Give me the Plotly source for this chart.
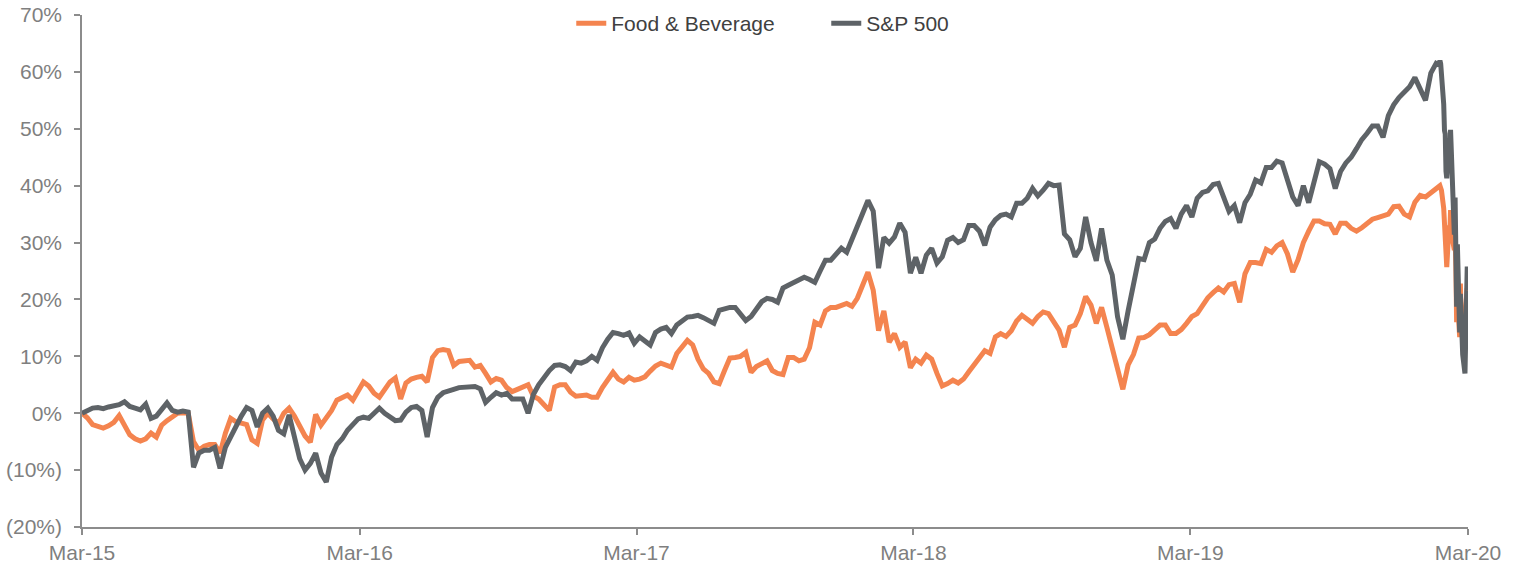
import pandas as pd
import plotly.graph_objects as go

# Weekly observation dates (Fridays) from the start of the series, then daily closes in the final weeks
weekly_dates = pd.date_range("2015-03-27", periods=256, freq="7D")
daily_dates = pd.to_datetime([
    "2020-02-18", "2020-02-19", "2020-02-20", "2020-02-21", "2020-02-24", "2020-02-25",
    "2020-02-26", "2020-02-27", "2020-02-28", "2020-03-02", "2020-03-03", "2020-03-04",
    "2020-03-05", "2020-03-06", "2020-03-09", "2020-03-10", "2020-03-11", "2020-03-12",
    "2020-03-13", "2020-03-16", "2020-03-17", "2020-03-18", "2020-03-19", "2020-03-20",
    "2020-03-23", "2020-03-24", "2020-03-25", "2020-03-26", "2020-03-27",
])

# Cumulative return (%) — S&P 500, weekly
sp500_weekly = [
    0, 0.5, 0.9, 1.0, 0.8, 1.1, 1.2, 1.5, 2.0, 1.2,
    0.9, 0.6, 1.6, -0.9, -0.5, 0.5, 1.8, 0.5, 0.2, 0.4,
    0.2, -9.5, -7, -6.5, -6.5, -6, -9.7, -6, -4.2, -2,
    -0.5, 1.0, 0.5, -2.4, 0, 0.9, -0.5, -3.0, -3.6, -0.3,
    -4, -8, -10, -8.8, -7, -10.5, -12.1, -7.7, -5.5, -4.5,
    -3, -2, -1, -0.7, -0.9, 0, 0.9, 0, -0.6, -1.3,
    -1.2, 0.2, 1.0, 1.2, 0.5, -4.2, 1.0, 2.8, 3.6, 4.0,
    4.2, 4.5, 4.6, 4.6, 4.7, 4.3, 1.9, 2.8, 3.6, 3.2,
    3.5, 2.5, 2.6, 2.5, 0, 3.3, 5, 6.3, 7.5, 8.4,
    8.5, 8.2, 7.5, 9.0, 8.8, 9.2, 10, 9.3, 11.5, 13,
    14.2, 14.0, 13.7, 14.1, 12.3, 13.4, 12.8, 12, 14.2, 14.8,
    15.1, 14, 15.5, 16.2, 16.9, 17, 17.2, 16.8, 16.2, 15.8,
    18.1, 18.4, 18.6, 18.6, 17.5, 16.3, 17, 18.5, 19.6, 20.2,
    20, 19.5, 22, 22.5, 22.9, 23.4, 23.9, 23.5, 23, 25,
    26.9, 26.9, 28, 29, 28.3, 30.5, 33, 35, 37.4, 35.5,
    25.5, 30.9, 29.9, 31, 33.4, 31.8, 24.6, 27.4, 24.6, 27.8,
    29, 26.4, 27.5, 30.4, 30.9, 30, 30.5, 33, 33, 32,
    29.5, 32.7, 34, 34.8, 35, 34.5, 36.9, 36.9, 37.8, 39.5,
    38.2, 39.2, 40.4, 40, 40.1, 31.5, 30.5, 27.5, 29, 34.5,
    30, 26.8, 32.5, 26.9, 24.3, 17, 13, 18, 22.5, 27.2,
    27, 30, 30.6, 32.5, 33.7, 34.2, 32.5, 35, 36.5, 34.5,
    37.8, 38.8, 39.1, 40.2, 40.4, 38.2, 35.5, 36.5, 33.5, 37,
    38.5, 41, 40.5, 43.2, 43.2, 44.3, 44, 41, 38, 36.5,
    40, 37, 41, 44.2, 43.8, 43, 39.5, 42.5, 44, 45,
    46.5, 48.1, 49.2, 50.5, 50.5, 48.5, 52.3, 54.2, 55.5, 56.5,
    57.4, 59.0, 57.0, 55, 59.8, 61.5,
]
sp500_daily = [
    61.2, 62.0, 61.4, 59.7, 54.3, 49.7, 49.1, 42.5, 41.3, 47.8,
    43.7, 49.8, 44.7, 42.2, 31.4, 37.9, 31.1, 18.7, 29.7, 14.2,
    21.0, 14.7, 15.3, 10.3, 7.0, 17.1, 18.5, 25.8, 21.6,
]

# Cumulative return (%) — Food & Beverage, weekly
fb_weekly = [
    0, -0.8, -2, -2.2, -2.6, -2.2, -1.6, -0.4, -2, -3.8,
    -4.5, -4.9, -4.5, -3.5, -4.2, -2.1, -1.3, -0.6, 0, 0.1,
    0, -5, -6.5, -5.8, -5.5, -5.5, -7, -3.5, -0.9, -1.5,
    -1.8, -2, -4.7, -5.3, -1.2, 0, -1, -1.8, 0, 0.9,
    -0.5, -2.5, -4, -5.1, -0.2, -2.1, -0.8, 0.5, 2.3, 2.7,
    3.2, 2.3, 4, 5.5, 4.8, 3.5, 2.8, 4, 5.5, 6.2,
    2.5, 5.3, 6, 6.3, 6.5, 5.5, 9.8, 11, 11.2, 11,
    8.4, 9.1, 9.3, 9.3, 8.1, 8.4, 7, 5.5, 6.1, 5.8,
    4.5, 3.8, 4.2, 4.5, 5, 3, 2.5, 1.5, 0.5, 4.6,
    5, 5, 3.7, 3, 3, 3.2, 2.8, 2.8, 4.5, 6,
    7.2, 6, 5.5, 6.3, 5.8, 6, 6.4, 7.4, 8.3, 8.8,
    8.5, 8.1, 10.5, 11.8, 12.8, 12, 9.5, 7.8, 7, 5.5,
    5.2, 7.5, 9.7, 9.8, 10, 10.7, 7.2, 8.2, 8.8, 9.2,
    7.5, 7, 6.8, 9.8, 9.8, 9.2, 9.5, 11.5, 16, 15.5,
    18, 18.6, 18.6, 19, 19.3, 18.8, 20.2, 22.5, 24.8, 21.6,
    14.5, 18, 12.5, 14, 11.6, 12.5, 8, 9.5, 8.8, 10.2,
    9.5, 7, 4.8, 5.2, 5.8, 5.3, 6, 7.3, 8.5, 9.8,
    11, 10.5, 13.4, 14, 13.5, 14.5, 16.2, 17.2, 16.5, 15.8,
    17, 17.8, 17.5, 16, 14.6, 11.6, 15.1, 15.5, 17.5, 20.5,
    19, 15.8, 18.6, 15.1, 11.6, 7.5, 4.2, 8.5, 10.3, 13.2,
    13.3, 13.8, 14.6, 15.5, 15.5, 14, 14, 14.7, 15.8, 17,
    17.5, 18.8, 20.3, 21.2, 22, 21.3, 22.6, 22.8, 19.5, 24.5,
    26.5, 26.5, 26.3, 28.8, 28.3, 29.4, 30, 28, 24.8, 27,
    30, 32, 33.8, 33.8, 33.3, 33.2, 31.5, 33.4, 33.4, 32.5,
    32, 32.6, 33.5, 34.1, 34.4, 34.6, 35, 36.3, 36.4, 35,
    34.5, 37.1, 38.3, 38, 38.8, 39.6,
]
fb_daily = [
    39.8, 40.0, 39.6, 39.2, 36.0, 33.4, 30.5, 27.0, 25.7, 33.0,
    31.5, 35.7, 33.0, 31.0, 28.7, 30.5, 26.0, 16.0, 20.0, 13.4,
    22.8, 16.0, 15.5, 13.5, 12.8, 18.5, 19.5, 22.0, 17.6,
]

x_tick_dates = ["2015-03-27", "2016-03-27", "2017-03-27", "2018-03-27", "2019-03-27", "2020-03-27"]
x_tick_labels = ["Mar-15", "Mar-16", "Mar-17", "Mar-18", "Mar-19", "Mar-20"]
y_tick_vals = [-20, -10, 0, 10, 20, 30, 40, 50, 60, 70]
y_tick_labels = ["(20%)", "(10%)", "0%", "10%", "20%", "30%", "40%", "50%", "60%", "70%"]

dates = list(weekly_dates) + list(daily_dates)
fb = fb_weekly + fb_daily
sp = sp500_weekly + sp500_daily

ORANGE = "#F4844F"
GRAY = "#5E6367"
AXIS = "#8C8C8C"
TICKCOL = "#7F7F7F"

fig = go.Figure()
fig.add_trace(go.Scatter(x=dates, y=fb, mode="lines", name="Food & Beverage",
                         line=dict(color=ORANGE, width=5)))
fig.add_trace(go.Scatter(x=dates, y=sp, mode="lines", name="S&P 500",
                         line=dict(color=GRAY, width=5)))

axis_common = dict(
    showgrid=False, zeroline=False, automargin=False,
    showline=True, linecolor=AXIS, linewidth=1.5,
    ticks="outside", ticklen=6, tickcolor=AXIS, tickwidth=1.5,
    tickfont=dict(size=21, color=TICKCOL),
    ticklabeloverflow="allow",
)

fig.update_layout(
    width=1520, height=564,
    margin=dict(l=82, r=52, t=15, b=37, autoexpand=False),
    paper_bgcolor="white", plot_bgcolor="white",
    font=dict(family="Liberation Sans, Arial, sans-serif", size=21, color=TICKCOL),
    showlegend=True,
    legend=dict(orientation="h", x=0.353, xanchor="left", y=1.0234, yanchor="top",
                font=dict(size=21, color="#404040"), bgcolor="rgba(0,0,0,0)",
                entrywidthmode="pixels", entrywidth=210, tracegroupgap=0),
    xaxis=dict(
        range=["2015-03-27", "2020-03-27"],
        tickmode="array", tickvals=x_tick_dates, ticktext=x_tick_labels,
        **axis_common,
    ),
    yaxis=dict(
        range=[-20, 70],
        tickmode="array", tickvals=y_tick_vals, ticktext=y_tick_labels,
        ticklabelstandoff=8,
        **axis_common,
    ),
)

# Remove the default page margin so the figure sits at the window's top-left corner
fig.write_html("out.html", config={"displayModeBar": False},
               post_script="document.body.style.margin='0px';")
